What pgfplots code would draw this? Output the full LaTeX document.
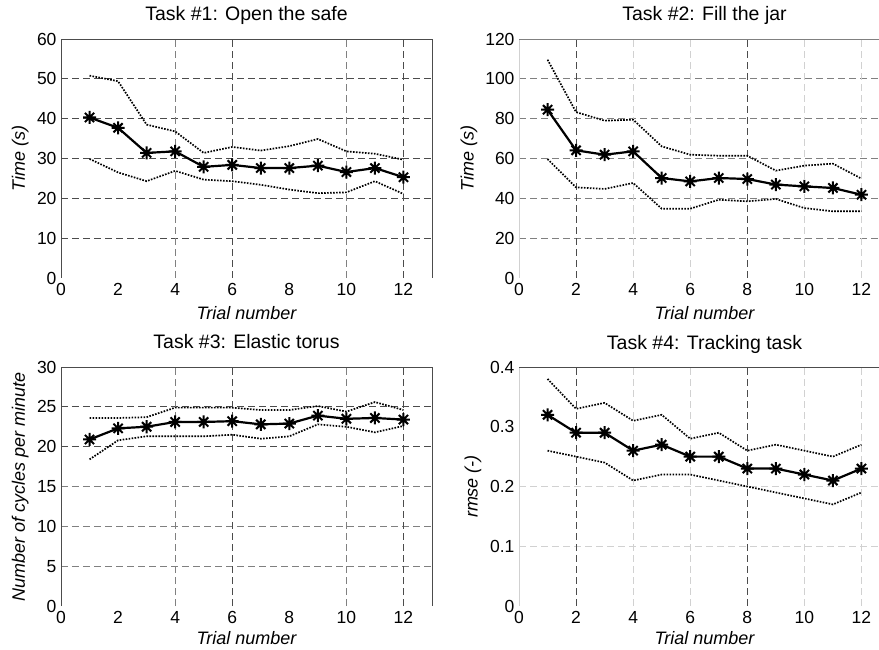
\documentclass[border=0pt]{standalone}
\usepackage{fontspec}
\setmainfont{Liberation Sans}
\usepackage{pgfplots}
\pgfplotsset{compat=1.18}

\definecolor{gdark}{gray}{0.3}
\definecolor{gmid}{gray}{0.5}
\definecolor{glight}{gray}{0.82}

\pgfdeclareplotmark{ast8}{%
  \pgfpathmoveto{\pgfqpoint{-\pgfplotmarksize}{0pt}}\pgfpathlineto{\pgfqpoint{\pgfplotmarksize}{0pt}}%
  \pgfpathmoveto{\pgfqpoint{0pt}{-\pgfplotmarksize}}\pgfpathlineto{\pgfqpoint{0pt}{\pgfplotmarksize}}%
  \pgfpathmoveto{\pgfqpoint{-0.707\pgfplotmarksize}{-0.707\pgfplotmarksize}}\pgfpathlineto{\pgfqpoint{0.707\pgfplotmarksize}{0.707\pgfplotmarksize}}%
  \pgfpathmoveto{\pgfqpoint{-0.707\pgfplotmarksize}{0.707\pgfplotmarksize}}\pgfpathlineto{\pgfqpoint{0.707\pgfplotmarksize}{-0.707\pgfplotmarksize}}%
  \pgfusepathqstroke}

\tikzset{
  gd/.style={gdark, line width=0.9pt, dash pattern=on 7pt off 4pt},
  gm/.style={gmid, line width=0.9pt, dash pattern=on 7pt off 4pt},
  gl/.style={glight, line width=0.9pt, dash pattern=on 7pt off 4pt},
}

\pgfplotsset{
  base/.style={
    scale only axis, width=371pt, height=239pt, anchor=north west,
    xmin=0, xmax=13, xtick={0,2,...,12},
    major tick length=0pt, minor tick length=0pt,
    axis line style={draw=none},
    tick label style={font=\fontsize{17.5}{20}\selectfont},
    /pgf/number format/assume math mode=true,
    label style={font=\fontsize{18}{21}\selectfont\itshape},
    title style={font=\fontsize{19.5}{22}\selectfont, at={(axis description cs:0.5,1)}, anchor=base, yshift=12pt},
    xlabel={Trial number},
    xlabel style={at={(axis description cs:0.5,-0.146)}, anchor=center},
    xticklabel style={yshift=-2pt},
    yticklabel style={xshift=-1pt},
    clip=false,
  },
  bottomrow/.style={xlabel style={at={(axis description cs:0.5,-0.136)}, anchor=center}},
  mean/.style={black, line width=2.2pt, mark=ast8, mark size=6.5pt, mark options={line width=2pt, solid}},
  bound/.style={black, line width=1.7pt, dash pattern=on 1.6pt off 1.4pt},
}

\begin{document}
\begin{tikzpicture}
\path[use as bounding box] (0,0) rectangle (879pt,649pt);

% ---------- Task 1 ----------
\begin{axis}[base, at={(61pt,610pt)},
  ymin=0, ymax=60, ytick={0,10,...,60},
  title={Task \#1: Open the safe},
  ylabel={Time (s)},
  ylabel style={at={(axis description cs:-0.11,0.5)}, anchor=center}]
\foreach \yy in {10,20,...,50} {\edef\tmp{\noexpand\draw[gd] (axis cs:0,\yy) -- (axis cs:13,\yy);}\tmp}
\foreach \xx in {4,10} {\edef\tmp{\noexpand\draw[gm] (axis cs:\xx,0) -- (axis cs:\xx,60);}\tmp}
\foreach \xx in {6,12} {\edef\tmp{\noexpand\draw[gd] (axis cs:\xx,0) -- (axis cs:\xx,60);}\tmp}
\draw[gdark, line width=0.9pt] (rel axis cs:0,0) -- (rel axis cs:0,1) -- (rel axis cs:1,1) -- (rel axis cs:1,0);
\addplot[bound] coordinates {(1,50.8) (2,49.4) (3,38.5) (4,36.8) (5,31.4) (6,32.9) (7,32.0) (8,33.1) (9,34.9) (10,31.8) (11,31.2) (12,29.7)};
\addplot[bound] coordinates {(1,29.9) (2,26.5) (3,24.3) (4,26.9) (5,24.7) (6,24.3) (7,23.4) (8,22.2) (9,21.3) (10,21.5) (11,24.3) (12,21.1)};
\addplot[mean] coordinates {(1,40.3) (2,37.7) (3,31.4) (4,31.8) (5,27.9) (6,28.4) (7,27.6) (8,27.6) (9,28.2) (10,26.6) (11,27.6) (12,25.3)};
\end{axis}

% ---------- Task 2 ----------
\begin{axis}[base, at={(519pt,610pt)},
  ymin=0, ymax=120, ytick={0,20,...,120},
  title={Task \#2: Fill the jar},
  ylabel={Time (s)},
  ylabel style={at={(axis description cs:-0.135,0.5)}, anchor=center}]
\foreach \yy in {20,40,...,100} {\edef\tmp{\noexpand\draw[gm] (axis cs:0,\yy) -- (axis cs:13,\yy);}\tmp}
\foreach \xx in {4,6,10,12} {\edef\tmp{\noexpand\draw[gl] (axis cs:\xx,0) -- (axis cs:\xx,120);}\tmp}
\foreach \xx in {2,8} {\edef\tmp{\noexpand\draw[gd] (axis cs:\xx,0) -- (axis cs:\xx,120);}\tmp}
\draw[glight, line width=0.9pt] (rel axis cs:0,0) -- (rel axis cs:0,1);
\draw[gmid, line width=0.9pt] (rel axis cs:0,1) -- (rel axis cs:1,1);
\addplot[bound] coordinates {(1,109.6) (2,83.3) (3,79.0) (4,79.5) (5,66.1) (6,61.9) (7,61.4) (8,61.4) (9,53.9) (10,56.4) (11,57.4) (12,49.9)};
\addplot[bound] coordinates {(1,59.7) (2,45.5) (3,44.7) (4,47.7) (5,34.8) (6,34.8) (7,39.3) (8,38.5) (9,39.7) (10,35.1) (11,33.5) (12,33.5)};
\addplot[mean] coordinates {(1,84.5) (2,64.1) (3,61.9) (4,63.6) (5,50.2) (6,48.5) (7,50.2) (8,49.7) (9,46.9) (10,46.0) (11,45.2) (12,41.8)};
\end{axis}

% ---------- Task 3 ----------
\begin{axis}[base, bottomrow, at={(61pt,282pt)},
  ymin=0, ymax=30, ytick={0,5,...,30},
  title={Task \#3: Elastic torus},
  ylabel={Number of cycles per minute},
  ylabel style={at={(axis description cs:-0.11,0.5)}, anchor=center}]
\foreach \yy in {5,10,15} {\edef\tmp{\noexpand\draw[gm] (axis cs:0,\yy) -- (axis cs:13,\yy);}\tmp}
\foreach \yy in {20,25} {\edef\tmp{\noexpand\draw[gd] (axis cs:0,\yy) -- (axis cs:13,\yy);}\tmp}
\foreach \xx in {4,10} {\edef\tmp{\noexpand\draw[gm] (axis cs:\xx,0) -- (axis cs:\xx,30);}\tmp}
\foreach \xx in {6,12} {\edef\tmp{\noexpand\draw[gd] (axis cs:\xx,0) -- (axis cs:\xx,30);}\tmp}
\draw[gdark, line width=0.9pt] (rel axis cs:0,0) -- (rel axis cs:0,1) -- (rel axis cs:1,1) -- (rel axis cs:1,0);
\addplot[bound] coordinates {(1,23.6) (2,23.6) (3,23.7) (4,24.9) (5,24.9) (6,24.9) (7,24.6) (8,24.6) (9,25.1) (10,24.4) (11,25.6) (12,24.6)};
\addplot[bound] coordinates {(1,18.4) (2,20.8) (3,21.3) (4,21.3) (5,21.3) (6,21.5) (7,21.0) (8,21.3) (9,22.8) (10,22.5) (11,21.8) (12,22.6)};
\addplot[mean] coordinates {(1,20.9) (2,22.3) (3,22.5) (4,23.1) (5,23.1) (6,23.2) (7,22.8) (8,22.9) (9,23.9) (10,23.5) (11,23.6) (12,23.4)};
\end{axis}

% ---------- Task 4 ----------
\begin{axis}[base, bottomrow, at={(519pt,282pt)},
  ymin=0, ymax=0.4, ytick={0,0.1,0.2,0.3,0.4},
  yticklabel style={/pgf/number format/fixed},
  title={Task \#4: Tracking task},
  ylabel={rmse (-)},
  ylabel style={at={(axis description cs:-0.124,0.5)}, anchor=center}]
\foreach \yy in {0.1,0.2} {\edef\tmp{\noexpand\draw[gl] (axis cs:0,\yy) -- (axis cs:13,\yy);}\tmp}
\foreach \xx in {4,6,10,12} {\edef\tmp{\noexpand\draw[gl] (axis cs:\xx,0) -- (axis cs:\xx,0.4);}\tmp}
\foreach \xx in {2,8} {\edef\tmp{\noexpand\draw[gd] (axis cs:\xx,0) -- (axis cs:\xx,0.4);}\tmp}
\draw[glight, line width=0.9pt] (rel axis cs:0,0) -- (rel axis cs:0,1);
\draw[gdark, line width=0.9pt] (rel axis cs:0,1) -- (rel axis cs:1,1);
\addplot[bound] coordinates {(1,0.38) (2,0.33) (3,0.34) (4,0.31) (5,0.32) (6,0.28) (7,0.29) (8,0.26) (9,0.27) (10,0.26) (11,0.25) (12,0.27)};
\addplot[bound] coordinates {(1,0.26) (2,0.25) (3,0.24) (4,0.21) (5,0.22) (6,0.22) (7,0.21) (8,0.20) (9,0.19) (10,0.18) (11,0.17) (12,0.19)};
\addplot[mean] coordinates {(1,0.32) (2,0.29) (3,0.29) (4,0.26) (5,0.27) (6,0.25) (7,0.25) (8,0.23) (9,0.23) (10,0.22) (11,0.21) (12,0.23)};
\end{axis}
\end{tikzpicture}
\end{document}
